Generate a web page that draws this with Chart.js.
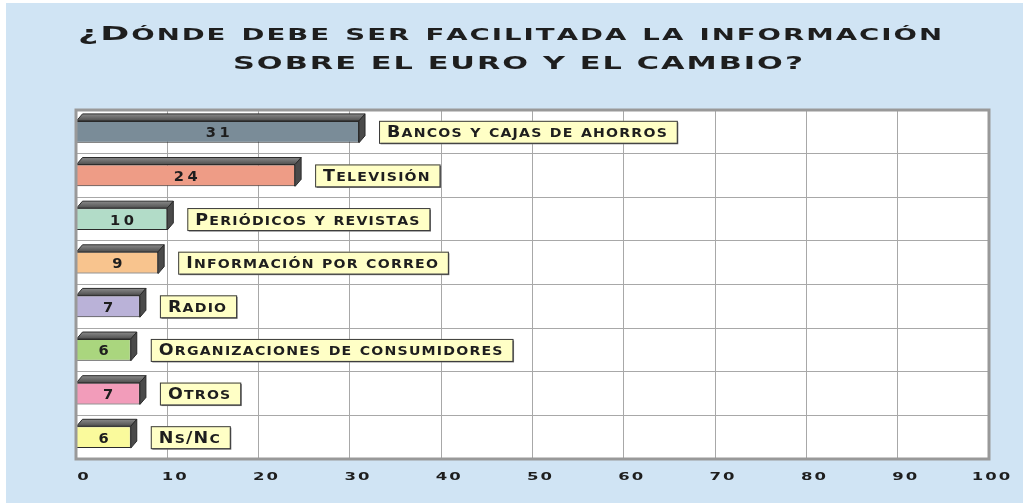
<!DOCTYPE html>
<html>
<head>
<meta charset="utf-8">
<script src="https://cdn.jsdelivr.net/npm/chart.js@4"></script>
<style>
  html, body { margin: 0; padding: 0; background: #fff; }
  canvas { display: block; }
</style>
</head>
<body>
<canvas id="euroChart" width="1023" height="503"></canvas>
<script>
// data
var categories = ['Bancos y cajas de ahorros', 'Televisión', 'Periódicos y revistas',
  'Información por correo', 'Radio', 'Organizaciones de consumidores', 'Otros', 'Ns/Nc'];
var values = [31, 24, 10, 9, 7, 6, 7, 6];
var barColors = ['#7a8c98', '#ee9c86', '#b2dcc8', '#f8c48e', '#bab2d8', '#aad67e', '#f29cba', '#fafa9c'];
var titleLines = ['¿Dónde debe ser facilitada la información', 'sobre el euro y el cambio?'];
var xMin = 0, xMax = 100, xStep = 10;

var FAMILY = '"DejaVu Sans"';
var WEIGHT = 'bold';

// small caps: lower case letters drawn as smaller capitals
function scParts(text, big, small) {
  return Array.from(text).map(function(ch) {
    var low = ch !== ch.toUpperCase();
    return { s: low ? ch.toUpperCase() : ch, size: low ? small : big };
  });
}

function partsWidth(ctx, ps, sp, sx) {
  var w = 0;
  ps.forEach(function(p) {
    ctx.font = WEIGHT + ' ' + p.size + 'px ' + FAMILY;
    w += ctx.measureText(p.s).width * sx;
  });
  return w + sp * (ps.length - 1);
}

function drawParts(ctx, ps, x, y, sp, sx) {
  var cx = x;
  ps.forEach(function(p) {
    ctx.font = WEIGHT + ' ' + p.size + 'px ' + FAMILY;
    var w = ctx.measureText(p.s).width * sx;
    ctx.save();
    ctx.translate(cx, y);
    ctx.scale(sx, 1);
    ctx.fillText(p.s, 0, 0);
    ctx.restore();
    cx += w + sp;
  });
}

var decoPlugin = {
  id: 'deco',
  beforeDraw: function(chart) {
    var ctx = chart.ctx, a = chart.chartArea;
    ctx.save();
    ctx.fillStyle = '#ffffff';
    ctx.fillRect(0, 0, chart.width, chart.height);
    ctx.fillStyle = '#d0e4f4';
    ctx.fillRect(6, 3, chart.width - 6, chart.height - 3);
    ctx.fillStyle = '#ffffff';
    ctx.fillRect(a.left, a.top, a.right - a.left, a.bottom - a.top);
    ctx.restore();
  },
  afterDatasetsDraw: function(chart) {
    var ctx = chart.ctx;
    var meta = chart.getDatasetMeta(0);
    var dx = 6, dy = 7;
    ctx.save();
    ctx.lineWidth = 1;
    ctx.strokeStyle = '#2a2a2a';
    meta.data.forEach(function(bar) {
      var top = bar.y - bar.height / 2, bot = bar.y + bar.height / 2;
      var l = bar.base, r = bar.x;
      // top face
      var g = ctx.createLinearGradient(0, top - dy, 0, top);
      g.addColorStop(0, '#8a8a8a');
      g.addColorStop(1, '#4e4e4e');
      ctx.fillStyle = g;
      ctx.beginPath();
      ctx.moveTo(l, top);
      ctx.lineTo(l + dx, top - dy);
      ctx.lineTo(r + dx, top - dy);
      ctx.lineTo(r, top);
      ctx.closePath();
      ctx.fill();
      ctx.stroke();
      // right face
      ctx.fillStyle = '#4a4a4a';
      ctx.beginPath();
      ctx.moveTo(r, top);
      ctx.lineTo(r + dx, top - dy);
      ctx.lineTo(r + dx, bot - dy);
      ctx.lineTo(r, bot);
      ctx.closePath();
      ctx.fill();
      ctx.stroke();
    });
    ctx.restore();
  },
  afterDraw: function(chart) {
    var ctx = chart.ctx, a = chart.chartArea;
    var meta = chart.getDatasetMeta(0);
    ctx.save();

    // frame
    ctx.strokeStyle = '#999999';
    ctx.lineWidth = 3;
    ctx.strokeRect(a.left, a.top, a.right - a.left, a.bottom - a.top);

    ctx.fillStyle = '#1e1e1e';
    ctx.textBaseline = 'alphabetic';

    // values inside bars and label boxes
    meta.data.forEach(function(bar, i) {
      var vp = scParts(String(values[i]), 14, 14);
      var vw = partsWidth(ctx, vp, 3.5, 1.05);
      ctx.fillStyle = '#1e1e1e';
      drawParts(ctx, vp, (bar.base + bar.x) / 2 - vw / 2, bar.y + 5.5, 3.5, 1.05);

      var lp = scParts(categories[i], 15.5, 12.5);
      var lw = partsWidth(ctx, lp, 1.2, 1.13);
      var bx = bar.x + 20, bh = 22, by = bar.y - bh / 2;
      var bw = lw + 18;
      ctx.fillStyle = '#7a7a7a';
      ctx.fillRect(bx + 1.5, by + 1.5, bw, bh);
      ctx.fillStyle = '#ffffc6';
      ctx.fillRect(bx, by, bw, bh);
      ctx.strokeStyle = '#3a3a3a';
      ctx.lineWidth = 1;
      ctx.strokeRect(bx + 0.5, by + 0.5, bw, bh);
      ctx.fillStyle = '#1e1e1e';
      drawParts(ctx, lp, bx + 8, bar.y + 5.5, 1.2, 1.13);
    });

    // x tick labels from the scale
    var xs = chart.scales.x;
    xs.ticks.forEach(function(t) {
      var tp = scParts(String(t.value), 11, 11);
      var tw = partsWidth(ctx, tp, 2, 1.5);
      var off = t.value === xMax ? 2 : 7;
      drawParts(ctx, tp, xs.getPixelForValue(t.value) + off - tw / 2, 480, 2, 1.5);
    });

    // title, small caps stretched to the original widths
    var specs = [
      { big: 19, small: 15, cx: 510, w: 864, y: 40 },
      { big: 18.5, small: 18, cx: 518, w: 570, y: 69 }
    ];
    titleLines.forEach(function(line, k) {
      var s = specs[k];
      var ps = scParts(line, s.big, s.small);
      var sp = 2;
      var nat = partsWidth(ctx, ps, 0, 1);
      var sx = (s.w - sp * (ps.length - 1)) / nat;
      drawParts(ctx, ps, s.cx - s.w / 2, s.y, sp, sx);
    });

    ctx.restore();
  }
};

var ctx = document.getElementById('euroChart').getContext('2d');
var chart = new Chart(ctx, {
  type: 'bar',
  data: {
    labels: categories,
    datasets: [{
      data: values,
      backgroundColor: barColors,
      borderColor: '#2a2a2a',
      borderWidth: 1,
      barPercentage: 0.5,
      categoryPercentage: 1
    }]
  },
  options: {
    indexAxis: 'y',
    responsive: false,
    animation: false,
    layout: { padding: { left: 76, right: 34, top: 110, bottom: 44 } },
    plugins: {
      legend: { display: false },
      tooltip: { enabled: false },
      title: { display: false }
    },
    scales: {
      x: {
        min: xMin,
        max: xMax,
        ticks: { stepSize: xStep, display: false },
        grid: { color: '#a8a8a8', lineWidth: 1, drawTicks: false },
        border: { display: false }
      },
      y: {
        ticks: { display: false },
        grid: { color: '#a8a8a8', lineWidth: 1, drawTicks: false, offset: true },
        border: { display: false }
      }
    }
  },
  plugins: [decoPlugin]
});
</script>
</body>
</html>
